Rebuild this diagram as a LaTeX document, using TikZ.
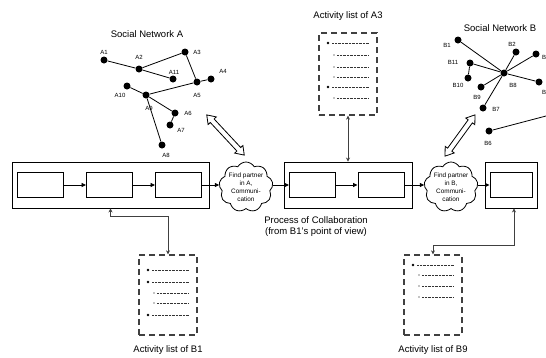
\documentclass[tikz,border=0pt]{standalone}
\usepackage{fontspec}
\setmainfont{Liberation Sans}
\usetikzlibrary{arrows.meta,shapes.symbols,shapes.arrows,calc}

\tikzset{
  netdot/.style={circle,fill=black,inner sep=0pt,minimum size=7pt},
  netlbl/.style={font=\fontsize{6}{7}\selectfont,inner sep=0pt},
  netedge/.style={line width=0.8pt},
  title/.style={font=\fontsize{9.5}{11}\selectfont,inner sep=0pt,align=center},
  outerbox/.style={draw,line width=0.9pt,minimum height=46pt,inner sep=0pt},
  innerbox/.style={draw,line width=0.9pt,minimum width=46pt,minimum height=25pt,inner sep=0pt},
  flow/.style={line width=0.8pt,-{Triangle[length=4.5pt,width=4pt]}},
  partner/.style={cloud,draw,line width=0.8pt,cloud puffs=9,cloud puff arc=120,
    minimum width=54pt,minimum height=50pt,inner sep=0pt},
  cloudtxt/.style={font=\fontsize{6.4}{8}\selectfont,align=center,inner sep=0pt},
  listbox/.style={draw=black!75,line width=1.3pt,dash pattern=on 6pt off 4pt,
    minimum width=58pt,minimum height=80pt,inner sep=0pt},
  link/.style={line width=0.8pt,draw=black!75,
    {Stealth[length=4pt,width=4pt]}-{Stealth[length=4pt,width=4pt]}},
  hollow/.style={double arrow,draw,line width=0.8pt,fill=white,inner sep=2.2pt,
    double arrow head extend=3pt,double arrow tip angle=70,double arrow head indent=0pt},
  dotline/.style={line width=0.45pt,draw=black!80,dash pattern=on 0.5pt off 0.9pt},
}

% bullet items of an activity list: #1 = left edge x, #2 = y/kind (0 bullet, 1 sub item)
\newcommand\actlistitems[2]{%
  \foreach \yy/\kk in {#2}{%
    \ifnum\kk=0
      \fill (#1+9,\yy) circle (1.3pt);
      \draw[dotline] (#1+13,\yy) -- (#1+50,\yy);
    \else
      \fill (#1+15,\yy) circle (0.6pt);
      \draw[dotline] (#1+18,\yy) -- (#1+50,\yy);
    \fi}}

\begin{document}
\begin{tikzpicture}[x=1pt,y=-1pt]
\useasboundingbox (0,0) rectangle (546,357);
\clip (0,0) rectangle (546,357);

% ---------- Social network A ----------
\node[title] (titleA) at (147,34) {Social Network A};
\foreach \n/\x/\y in {A1/104/60, A2/139/69, A3/185/52, A11/173/79, A4/211/79,
  A5/197/82, A10/127/86, A9/146/95, A6/175/113, A7/170/125, A8/162/145}
  \node[netdot] (\n) at (\x,\y) {};
\foreach \n/\x/\y in {A1/104/52, A2/139/57, A3/197/52, A11/174/72, A4/223/71,
  A5/197/95, A10/120/95, A9/149/108, A6/188/113, A7/181/130, A8/166/155}
  \node[netlbl] at (\x,\y) {\n};
\foreach \a/\b in {A1/A2, A2/A3, A2/A11, A3/A5, A5/A4, A5/A9, A10/A9, A9/A6, A6/A7, A9/A8}
  \draw[netedge] (\a) -- (\b);

% ---------- Social network B ----------
\node[title] (titleB) at (500,28) {Social Network B};
\foreach \n/\x/\y in {B1/458/40, B2/516/52, B3/536/54, B11/470/63, B10/468/78,
  B8/504/73, B4/539/82, B9/481/87, B7/483/108, B6/489/131}
  \node[netdot] (\n) at (\x,\y) {};
\foreach \n/\x/\y in {B1/447/45, B2/512/44, B11/453/62, B10/458/85, B8/513/85,
  B9/477/97, B7/496/109, B6/488/143}
  \node[netlbl] at (\x,\y) {\n};
\node[netlbl,anchor=west] at (542,57) {B3};
\node[netlbl,anchor=west] at (542,92) {B4};
\coordinate (B5) at (570,109.7);
\foreach \a/\b in {B1/B8, B2/B8, B3/B8, B11/B8, B11/B10, B8/B4, B9/B8, B7/B8, B6/B5}
  \draw[netedge] (\a) -- (\b);

% ---------- process of collaboration ----------
\node[outerbox,minimum width=197pt] (proc1) at (110.5,185) {};
\node[outerbox,minimum width=128pt] (proc2) at (348,185) {};
\node[outerbox,minimum width=52pt]  (proc3) at (511,185) {};

\node[innerbox] (p1a) at (40,185) {};
\node[innerbox] (p1b) at (109.5,185) {};
\node[innerbox] (p1c) at (178.5,185) {};
\node[innerbox] (p2a) at (312.5,185) {};
\node[innerbox] (p2b) at (381,185) {};
\node[innerbox,minimum width=42pt] (p3a) at (511,185) {};

\node[partner] (cloudA) at (246,187) {};
\node[cloudtxt] at (cloudA) {Find partner\\in A,\\Communi-\\cation};
\node[partner] (cloudB) at (451,187) {};
\node[cloudtxt] at (cloudB) {Find partner\\in B,\\Communi-\\cation};

\draw[flow] (p1a) -- (p1b);
\draw[flow] (p1b) -- (p1c);
\draw[flow] (p1c.east) -- (p1c.east -| cloudA.west);
\draw[flow] (p1c.east -| cloudA.east) -- (p2a.west);
\draw[flow] (p2a) -- (p2b);
\draw[flow] (p2b.east) -- (p2b.east -| cloudB.west);
\draw[flow] (p2b.east -| cloudB.east) -- (p3a.west);

\node[title] (proctitle) at (316,226.5) {Process of Collaboration\\(from B1's point of view)};

% hollow arrows between the networks and the partner search
\node[hollow,minimum height=55pt,rotate=-47] (hollowA) at (225.5,135) {};
\node[hollow,minimum height=51pt,rotate=54] (hollowB) at (460,135.5) {};

% ---------- activity lists ----------
\node[listbox,minimum height=82pt] (listA3) at (348,74) {};
\node[title] (titleA3) at (348,16) {Activity list of A3};
\actlistitems{319}{43/0,55/1,67/1,77/1,87/0,98/1}

\node[listbox] (listB1) at (168,295) {};
\node[title] (titleB1) at (168,350) {Activity list of B1};
\actlistitems{139}{270/0,282/0,293/1,303/1,315/0}

\node[listbox] (listB9) at (433,295) {};
\node[title] (titleB9) at (433,350) {Activity list of B9};
\actlistitems{404}{265/0,275/1,286/1,297/1}

\draw[link] (listA3.south) -- (proc2.north);
\draw[link] (listB1.north) -- ++(0,-38) -| (proc1.south);
\draw[link] (listB9.north) -- ++(0,-9) -| ([xshift=3pt]proc3.south);
\end{tikzpicture}
\end{document}
